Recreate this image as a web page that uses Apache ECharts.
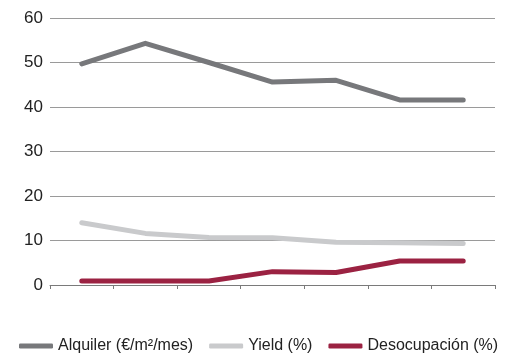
<!DOCTYPE html>
<html>
<head>
<meta charset="utf-8">
<script src="https://cdn.jsdelivr.net/npm/echarts@6/dist/echarts.min.js"></script>
<style>
  html, body { margin: 0; padding: 0; background: #fff; }
  #chart { width: 507px; height: 354px; }
</style>
</head>
<body>
<div id="chart"></div>
<script>
// Periods along the horizontal axis (not labelled on the chart)
const periods = ['P1', 'P2', 'P3', 'P4', 'P5', 'P6', 'P7'];

// Series values
const alquiler = [49.7, 54.3, 50.0, 45.6, 46.0, 41.6, 41.6];
const yieldPct = [14.0, 11.6, 10.7, 10.6, 9.6, 9.5, 9.3];
const desocupacion = [0.9, 0.9, 0.9, 3.0, 2.8, 5.4, 5.4];

// Value axis ticks
const yTicks = { min: 0, max: 60, interval: 10 };

const seriesNames = ['Alquiler (€/m²/mes)', 'Yield (%)', 'Desocupación (%)'];
const seriesColors = ['#77787b', '#c9cacc', '#9b2242'];
const seriesData = [alquiler, yieldPct, desocupacion];

const FONT = 'Liberation Sans, Arial, sans-serif';
const chart = echarts.init(document.getElementById('chart'), null, { renderer: 'canvas' });

chart.setOption({
  animation: false,
  textStyle: { fontFamily: FONT },
  grid: { left: 50, right: 12, top: 18, bottom: 69, containLabel: false },
  legend: {
    left: 14,
    top: 333,
    width: 493,
    icon: 'roundRect',
    itemWidth: 34,
    itemHeight: 5,
    itemGap: 16,
    textStyle: { fontSize: 16, color: '#222', fontFamily: FONT },
    data: seriesNames
  },
  xAxis: {
    type: 'category',
    data: periods,
    boundaryGap: true,
    axisLine: { lineStyle: { color: '#7a7a7a', width: 1 } },
    axisTick: { show: true, length: 4, inside: false, lineStyle: { color: '#7a7a7a' } },
    axisLabel: { show: false },
    splitLine: { show: false }
  },
  yAxis: {
    type: 'value',
    min: yTicks.min,
    max: yTicks.max,
    interval: yTicks.interval,
    axisLine: { show: false },
    axisTick: { show: false },
    axisLabel: { fontSize: 17, color: '#222', margin: 7, fontFamily: FONT },
    splitLine: { lineStyle: { color: '#9a9a9a', width: 1 } }
  },
  series: seriesNames.map((name, i) => ({
    name: name,
    type: 'line',
    data: seriesData[i],
    symbol: 'none',
    color: seriesColors[i],
    lineStyle: { width: 5, color: seriesColors[i], cap: 'round', join: 'round' },
    z: 3 - i
  }))
});
</script>
</body>
</html>
